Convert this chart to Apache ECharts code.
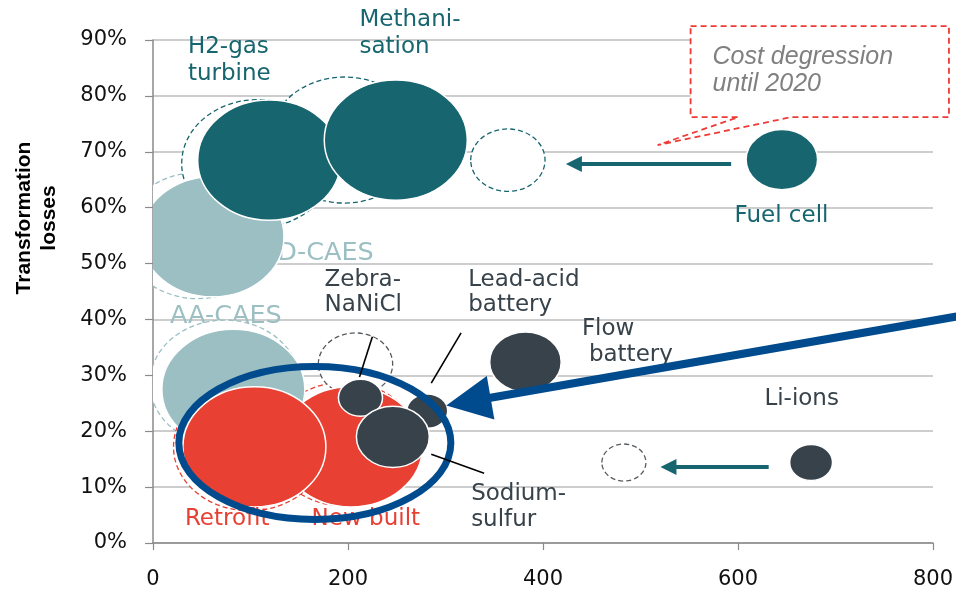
<!DOCTYPE html>
<html><head><meta charset="utf-8">
<script src="https://cdn.jsdelivr.net/npm/echarts@6/dist/echarts.min.js"></script>
<style>html,body{margin:0;padding:0;background:#fff}#c{width:956px;height:593px}</style>
</head><body><div id="c"></div><script>
// ---------------- data ----------------
const xMin = 0, xMax = 800, xStep = 200;
const yMin = 0, yMax = 90, yStep = 10;

// technologies today: storage cost (x), transformation losses in % (y), bubble size value
const techNames = ['D-CAES','AA-CAES','H2-gas turbine','Methanisation','Fuel cell','New built','Retrofit','Zebra-NaNiCl','Lead-acid battery','Sodium-sulfur','Flow battery','Li-ions'];
const techCost  = [61, 82.4, 119.2, 249, 645, 203, 104, 212.8, 281.3, 246, 382, 675];
const techLoss  = [54.8, 27.5, 68.5, 72.1, 68.6, 17.2, 17.2, 26.0, 23.6, 19.0, 32.4, 14.4];
const techSize  = [100, 100, 100, 100, 25, 100, 100, 9.5, 8.2, 26, 25, 9];
const techGroup = ['caes','caes','gas','gas','gas','pump','pump','batt','batt','batt','batt','batt'];

// projected positions until 2020 (dashed bubbles)
const futNames = ['D-CAES','AA-CAES','H2-gas turbine','Methanisation','Fuel cell','New built','Retrofit','Zebra-NaNiCl','Li-ions'];
const futCost  = [46, 73.7, 107.4, 196.4, 364, 196, 99, 207.7, 483];
const futLoss  = [55, 28.6, 67.9, 72.1, 68.5, 17.7, 17.2, 32.0, 14.4];
const futSize  = [110, 110, 113, 110, 27, 106, 113, 27, 9.5];
const futGroup = ['caes','caes','gas','gas','gas','pump','pump','batt','batt'];

// text labels (anchor = left / first line)
const labelTexts = ['H2-gas\nturbine','Methani-\nsation','Fuel cell','Zebra-\nNaNiCl','Lead-acid\nbattery','Flow','battery','Li-ions','Sodium-\nsulfur','Retrofit','New built'];
const labelX     = [35.8, 211.8, 596.4, 176, 323.3, 439.9, 447.1, 627.1, 326.3, 32.7, 162.7];
const labelY     = [88.75, 93.58, 58.51, 47.06, 47.06, 38.29, 33.64, 25.77, 8.77, 4.29, 4.29];
const labelGroup = ['gas','gas','gas','batt','batt','batt','batt','batt','batt','pump','pump'];
const backLabelTexts = ['D-CAES','AA-CAES'];
const backLabelX = [127.5, 17.4];
const backLabelY = [51.85, 40.58];

// annotations (data coordinates)
const shiftFrom = [[593, 67.8], [631.5, 13.6]];
const shiftTo   = [[423.5, 67.8], [520.5, 13.6]];
const trendFrom = [830, 40.7];
const trendTo   = [300.8, 24.6];
const focusCenter = [166, 17.9];
const leaderFrom = [[225, 36.9], [316, 37.6], [285.4, 15.9]];
const leaderTo   = [[211.8, 29.7], [285.4, 28.6], [339.6, 12.5]];
const calloutTopLeft = [551.4, 92.5];
const calloutBottomRight = [816.4, 76.2];
const calloutTip = [517.6, 71.2];
const calloutBase = [600.5, 654.7];
const calloutText = 'Cost degression\nuntil 2020';
const calloutTextAt = [573.9, 87.0];
const yTitle = 'Transformation\nlosses';

// ---------------- styles ----------------
const fillColor = {caes:'#9BBFC2', gas:'#17656F', pump:'#E84033', batt:'#37424A'};
const dashColor = {caes:'#9BBFC2', gas:'#17656F', pump:'#E84033', batt:'#555B60'};
const textColor = {caes:'#9BBFC2', gas:'#17656F', pump:'#E84033', batt:'#37424A'};
const ASPECT = 1.19;
const bubbleW = v => 14.3 * Math.sqrt(v);
const FONT = 'DejaVu Sans';

const chart = echarts.init(document.getElementById('c'), null, {renderer:'canvas'});

function bubbleRenderer(groups, styleFn) {
  return function (params, api) {
    const c = api.coord([api.value(0), api.value(1)]);
    const w = bubbleW(api.value(2));
    return {type:'ellipse', shape:{cx:c[0], cy:c[1], rx:w/2, ry:w/ASPECT/2},
      style: styleFn(groups[params.dataIndex])};
  };
}

const lh = t => (t.startsWith('H2') || t.startsWith('Methani')) ? 27 : (t.startsWith('Sodium') ? 26 : 25);
const labelData = labelTexts.map((t, i) => ({
  value: [labelX[i], labelY[i]],
  label: {show:true, formatter: t, position:[0,0], align:'left', verticalAlign:'top',
    offset:[0, -lh(t)/2], lineHeight: lh(t), fontSize:23, fontFamily: FONT, color: textColor[labelGroup[i]]}
}));
const backLabelData = backLabelTexts.map((t, i) => ({
  value: [backLabelX[i], backLabelY[i]],
  label: {show:true, formatter: t, position:[0,0], align:'left', verticalAlign:'top',
    offset:[0, -14], lineHeight: 28, fontSize:25.5, fontFamily: FONT, color: textColor.caes}
}));

const axisGray = '#8A8A8A';
chart.setOption({
  animation: false,
  backgroundColor: '#ffffff',
  grid: {left:153, right:21, top:40, bottom:50, containLabel:false},
  xAxis: {
    type:'value', min:xMin, max:xMax, interval:xStep,
    axisLine:{show:true, onZero:false, lineStyle:{color:axisGray, width:1.5}},
    axisTick:{show:true, length:7, lineStyle:{color:axisGray, width:1.2}},
    axisLabel:{margin:26, fontSize:21, fontFamily:FONT, color:'#111'},
    splitLine:{show:false}
  },
  yAxis: {
    type:'value', min:yMin, max:yMax, interval:yStep,
    axisLine:{show:true, lineStyle:{color:axisGray, width:1.5}},
    axisTick:{show:true, length:8, lineStyle:{color:axisGray, width:1.2}},
    axisLabel:{formatter:'{value}%', margin:26, fontSize:21, fontFamily:FONT, color:'#111'},
    splitLine:{show:true, lineStyle:{color:'#BDBDBD', width:1.5}}
  },
  series: [
    {type:'scatter', name:'back labels', z:1, silent:true, clip:false, symbolSize:0,
      itemStyle:{opacity:1}, data: backLabelData},
    {type:'custom', name:'2020', z:2, silent:true, clip:true,
      data: futCost.map((x, i) => [x, futLoss[i], futSize[i]]),
      renderItem: bubbleRenderer(futGroup, g => ({fill:'#ffffff', stroke:dashColor[g], lineWidth:1.3, lineDash:[5,3]}))},
    {type:'custom', name:'today', z:3, silent:true, clip:true,
      data: techCost.map((x, i) => [x, techLoss[i], techSize[i]]),
      renderItem: bubbleRenderer(techGroup, g => ({fill:fillColor[g], stroke:'#ffffff', lineWidth:1.5}))},
    {type:'scatter', name:'labels', z:4, silent:true, clip:false, symbolSize:0,
      itemStyle:{opacity:1}, data: labelData},
    {type:'custom', name:'focus', z:5, silent:true, clip:false, data:[focusCenter],
      renderItem: function (params, api) {
        const c = api.coord([api.value(0), api.value(1)]);
        return {type:'ellipse', shape:{cx:c[0], cy:c[1], rx:136, ry:76.5},
          style:{fill:null, stroke:'#004B8D', lineWidth:7}};
      }}
  ]
});

// ---------------- annotations via the axes' scales ----------------
const px = p => chart.convertToPixel({gridIndex:0}, p);
function arrow(from, to, width, headLen, headHalf, color) {
  const a = px(from), b = px(to);
  const dx = a[0]-b[0], dy = a[1]-b[1], L = Math.hypot(dx, dy);
  const ux = dx/L, uy = dy/L, pxp = -uy, pyp = ux;
  const base = [b[0]+ux*headLen, b[1]+uy*headLen];
  const lineEnd = [b[0]+ux*(headLen-3), b[1]+uy*(headLen-3)];
  return [
    {type:'line', z:100, silent:true, shape:{x1:a[0], y1:a[1], x2:lineEnd[0], y2:lineEnd[1]}, style:{stroke:color, lineWidth:width}},
    {type:'polygon', z:100, silent:true, shape:{points:[b, [base[0]+pxp*headHalf, base[1]+pyp*headHalf], [base[0]-pxp*headHalf, base[1]-pyp*headHalf]]}, style:{fill:color}}
  ];
}
const g = [];
shiftFrom.forEach((f, i) => g.push(...arrow(f, shiftTo[i], 4, 16, 8, '#17656F')));
leaderFrom.forEach((f, i) => {
  const a = px(f), b = px(leaderTo[i]);
  g.push({type:'line', z:100, silent:true, shape:{x1:a[0], y1:a[1], x2:b[0], y2:b[1]}, style:{stroke:'#000', lineWidth:1.6}});
});
g.push(...arrow(trendFrom, trendTo, 8, 45, 22, '#004B8D'));
// callout
const tl = px(calloutTopLeft), br = px(calloutBottomRight), tip = px(calloutTip);
const bL = px([calloutBase[0], calloutBottomRight[1]]), bR = px([calloutBase[1], calloutBottomRight[1]]);
g.push({type:'polygon', z:90, silent:true, shape:{points:[[tl[0],tl[1]],[br[0],tl[1]],[br[0],br[1]],bR,tip,bL,[tl[0],br[1]]]},
  style:{fill:'#ffffff', stroke:'#EE3B35', lineWidth:1.8, lineDash:[6,4]}});
const ct = px(calloutTextAt);
g.push({type:'text', z:95, silent:true, x:ct[0], y:ct[1]-13.5, style:{text:calloutText, fontSize:25, fontStyle:'italic',
  fontFamily:'Liberation Sans', fill:'#808080', lineHeight:27, align:'left', verticalAlign:'top'}});
// y axis title
g.push({type:'text', z:100, silent:true, x:36.5, y:218, rotation:Math.PI/2, style:{text:yTitle, fontSize:21, fontWeight:'bold',
  fontFamily:'Liberation Sans', fill:'#000', lineHeight:25, align:'center', verticalAlign:'middle'}});
chart.setOption({graphic: g});
</script></body></html>
